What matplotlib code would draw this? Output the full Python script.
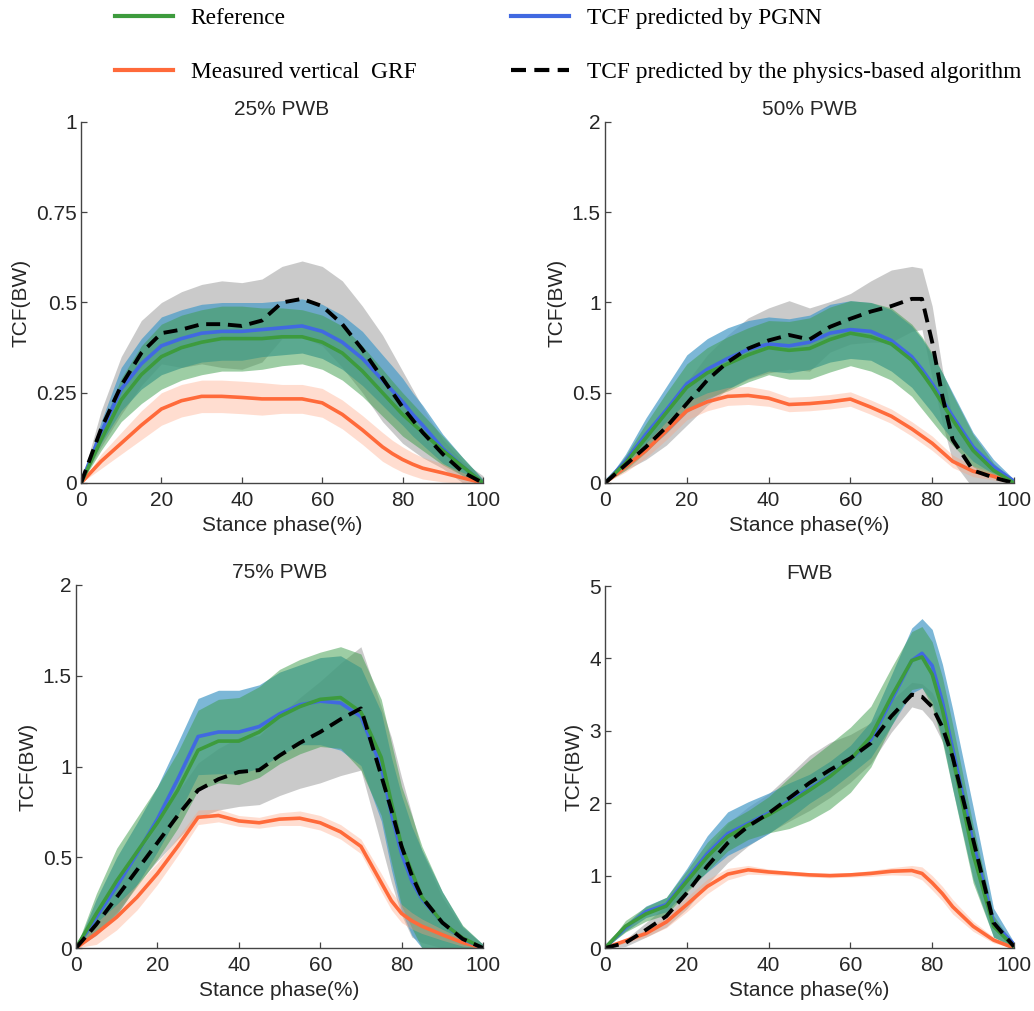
import numpy as np
import matplotlib
matplotlib.use("Agg")
import matplotlib.pyplot as plt
from matplotlib.lines import Line2D

# ---------------- data ----------------
stance = [0, 5, 10, 15, 20, 25, 30, 35, 40, 45, 50, 55, 60, 65, 70, 75, 77.5, 80, 82.5, 85, 90, 95, 100]

titles = ["25% PWB", "50% PWB", "75% PWB", "FWB"]
y_max = [1, 2, 2, 5]
y_ticks = [[0, 0.25, 0.5, 0.75, 1], [0, 0.5, 1, 1.5, 2], [0, 0.5, 1, 1.5, 2], [0, 1, 2, 3, 4, 5]]
y_ticklabels = [["0", "0.25", "0.5", "0.75", "1"], ["0", "0.5", "1", "1.5", "2"],
                ["0", "0.5", "1", "1.5", "2"], ["0", "1", "2", "3", "4", "5"]]

# 25% PWB
ref_25 = [0, 0.12, 0.23, 0.30, 0.35, 0.375, 0.39, 0.40, 0.40, 0.40, 0.405, 0.405, 0.39, 0.36, 0.31, 0.25, 0.22, 0.19, 0.165, 0.14, 0.09, 0.045, 0]
ref_sd_25 = [0, 0.03, 0.06, 0.08, 0.09, 0.09, 0.09, 0.09, 0.09, 0.085, 0.08, 0.075, 0.075, 0.075, 0.07, 0.065, 0.062, 0.06, 0.055, 0.05, 0.04, 0.025, 0.01]
pgnn_25 = [0, 0.14, 0.26, 0.33, 0.38, 0.40, 0.415, 0.42, 0.42, 0.425, 0.43, 0.435, 0.42, 0.39, 0.345, 0.285, 0.255, 0.225, 0.19, 0.16, 0.095, 0.045, 0]
pgnn_sd_25 = [0, 0.03, 0.06, 0.07, 0.08, 0.08, 0.08, 0.08, 0.08, 0.075, 0.075, 0.075, 0.075, 0.075, 0.075, 0.07, 0.068, 0.065, 0.06, 0.055, 0.04, 0.025, 0.01]
phys_25 = [0, 0.15, 0.27, 0.36, 0.415, 0.425, 0.44, 0.44, 0.435, 0.45, 0.50, 0.51, 0.49, 0.44, 0.37, 0.29, 0.25, 0.21, 0.175, 0.14, 0.08, 0.03, 0]
phys_sd_25 = [0, 0.05, 0.08, 0.09, 0.085, 0.105, 0.11, 0.12, 0.12, 0.115, 0.10, 0.105, 0.11, 0.12, 0.12, 0.12, 0.11, 0.10, 0.085, 0.07, 0.04, 0.03, 0.02]
grf_25 = [0, 0.06, 0.11, 0.16, 0.205, 0.228, 0.24, 0.24, 0.237, 0.233, 0.233, 0.233, 0.222, 0.19, 0.147, 0.10, 0.081, 0.065, 0.052, 0.041, 0.028, 0.014, 0]
grf_sd_25 = [0, 0.02, 0.03, 0.04, 0.045, 0.045, 0.045, 0.045, 0.045, 0.045, 0.04, 0.04, 0.04, 0.04, 0.04, 0.04, 0.037, 0.035, 0.032, 0.03, 0.025, 0.015, 0.005]

# 50% PWB
ref_50 = [0, 0.11, 0.25, 0.39, 0.53, 0.61, 0.66, 0.71, 0.75, 0.735, 0.745, 0.795, 0.83, 0.81, 0.77, 0.68, 0.61, 0.53, 0.44, 0.35, 0.18, 0.07, 0]
ref_sd_50 = [0, 0.04, 0.08, 0.11, 0.13, 0.14, 0.15, 0.15, 0.15, 0.16, 0.17, 0.18, 0.18, 0.19, 0.2, 0.2, 0.2, 0.19, 0.17, 0.14, 0.09, 0.04, 0.01]
pgnn_50 = [0, 0.12, 0.27, 0.405, 0.55, 0.63, 0.69, 0.74, 0.77, 0.76, 0.78, 0.83, 0.85, 0.84, 0.79, 0.70, 0.63, 0.55, 0.46, 0.37, 0.20, 0.09, 0.01]
pgnn_sd_50 = [0, 0.04, 0.09, 0.13, 0.16, 0.17, 0.17, 0.16, 0.15, 0.15, 0.15, 0.16, 0.16, 0.16, 0.17, 0.17, 0.17, 0.16, 0.15, 0.13, 0.08, 0.04, 0.01]
phys_50 = [0, 0.10, 0.20, 0.31, 0.44, 0.57, 0.67, 0.745, 0.79, 0.82, 0.795, 0.865, 0.91, 0.95, 0.98, 1.02, 1.02, 0.78, 0.48, 0.24, 0.07, 0.03, 0]
phys_sd_50 = [0, 0.03, 0.07, 0.10, 0.12, 0.14, 0.15, 0.17, 0.18, 0.19, 0.175, 0.14, 0.14, 0.17, 0.2, 0.18, 0.17, 0.2, 0.15, 0.12, 0.1, 0.05, 0.02]
grf_50 = [0, 0.09, 0.18, 0.29, 0.40, 0.45, 0.48, 0.485, 0.47, 0.435, 0.44, 0.45, 0.465, 0.42, 0.37, 0.30, 0.26, 0.22, 0.17, 0.12, 0.065, 0.037, 0]
grf_sd_50 = [0, 0.03, 0.04, 0.05, 0.05, 0.05, 0.05, 0.05, 0.045, 0.04, 0.04, 0.04, 0.04, 0.04, 0.04, 0.04, 0.04, 0.04, 0.037, 0.035, 0.03, 0.02, 0.005]

# 75% PWB
ref_75 = [0, 0.19, 0.37, 0.53, 0.69, 0.87, 1.09, 1.14, 1.14, 1.19, 1.275, 1.33, 1.37, 1.38, 1.30, 1.05, 0.80, 0.56, 0.42, 0.28, 0.14, 0.055, 0]
ref_sd_75 = [0, 0.11, 0.18, 0.19, 0.2, 0.21, 0.22, 0.23, 0.24, 0.25, 0.26, 0.26, 0.26, 0.28, 0.32, 0.32, 0.33, 0.33, 0.31, 0.28, 0.17, 0.07, 0.02]
pgnn_75 = [0, 0.17, 0.34, 0.52, 0.71, 0.93, 1.165, 1.19, 1.19, 1.22, 1.29, 1.34, 1.36, 1.35, 1.275, 1.0, 0.74, 0.52, 0.37, 0.27, 0.14, 0.05, 0]
pgnn_sd_75 = [0, 0.1, 0.16, 0.17, 0.18, 0.2, 0.21, 0.23, 0.23, 0.23, 0.23, 0.22, 0.24, 0.26, 0.27, 0.3, 0.31, 0.32, 0.3, 0.27, 0.17, 0.07, 0.02]
phys_75 = [0, 0.13, 0.28, 0.43, 0.58, 0.73, 0.87, 0.93, 0.97, 0.98, 1.06, 1.13, 1.19, 1.26, 1.32, 0.95, 0.76, 0.56, 0.40, 0.28, 0.14, 0.05, 0]
phys_sd_75 = [0, 0.05, 0.08, 0.08, 0.1, 0.13, 0.15, 0.17, 0.19, 0.19, 0.22, 0.25, 0.28, 0.31, 0.34, 0.38, 0.4, 0.38, 0.34, 0.25, 0.14, 0.06, 0.02]
grf_75 = [0, 0.08, 0.17, 0.28, 0.41, 0.56, 0.72, 0.73, 0.70, 0.69, 0.71, 0.715, 0.69, 0.64, 0.56, 0.36, 0.26, 0.19, 0.15, 0.12, 0.073, 0.03, 0]
grf_sd_75 = [0, 0.06, 0.07, 0.07, 0.06, 0.05, 0.04, 0.035, 0.03, 0.03, 0.035, 0.04, 0.04, 0.04, 0.04, 0.05, 0.05, 0.05, 0.045, 0.04, 0.03, 0.02, 0]

# FWB
ref_fwb = [0, 0.30, 0.47, 0.58, 0.92, 1.26, 1.54, 1.70, 1.84, 2.0, 2.18, 2.37, 2.6, 2.92, 3.47, 3.97, 4.02, 3.78, 3.29, 2.64, 1.3, 0.3, 0.02]
ref_sd_fwb = [0, 0.08, 0.1, 0.12, 0.15, 0.2, 0.2, 0.2, 0.25, 0.35, 0.42, 0.45, 0.45, 0.42, 0.4, 0.4, 0.42, 0.45, 0.45, 0.45, 0.4, 0.15, 0.02]
pgnn_fwb = [0, 0.28, 0.5, 0.6, 0.95, 1.3, 1.58, 1.72, 1.86, 2.03, 2.2, 2.38, 2.6, 2.88, 3.42, 3.97, 4.07, 3.9, 3.4, 2.75, 1.45, 0.35, 0.05]
pgnn_sd_fwb = [0, 0.05, 0.08, 0.1, 0.15, 0.25, 0.3, 0.3, 0.28, 0.25, 0.2, 0.2, 0.2, 0.25, 0.35, 0.45, 0.48, 0.5, 0.52, 0.55, 0.5, 0.2, 0.03]
phys_fwb = [0, 0.07, 0.25, 0.44, 0.76, 1.13, 1.45, 1.68, 1.86, 2.07, 2.28, 2.46, 2.62, 2.83, 3.2, 3.5, 3.47, 3.33, 3.05, 2.64, 1.5, 0.35, 0.02]
phys_sd_fwb = [0, 0.05, 0.1, 0.15, 0.22, 0.25, 0.27, 0.27, 0.27, 0.32, 0.38, 0.38, 0.33, 0.28, 0.22, 0.17, 0.18, 0.2, 0.2, 0.2, 0.15, 0.08, 0.02]
grf_fwb = [0, 0.1, 0.2, 0.36, 0.6, 0.85, 1.02, 1.08, 1.05, 1.03, 1.01, 1.0, 1.01, 1.03, 1.06, 1.07, 1.03, 0.9, 0.75, 0.57, 0.3, 0.11, 0]
grf_sd_fwb = [0, 0.03, 0.05, 0.08, 0.1, 0.1, 0.08, 0.06, 0.04, 0.03, 0.03, 0.03, 0.03, 0.04, 0.05, 0.07, 0.09, 0.1, 0.1, 0.1, 0.07, 0.04, 0]

panels = [
    (ref_25, ref_sd_25, pgnn_25, pgnn_sd_25, phys_25, phys_sd_25, grf_25, grf_sd_25),
    (ref_50, ref_sd_50, pgnn_50, pgnn_sd_50, phys_50, phys_sd_50, grf_50, grf_sd_50),
    (ref_75, ref_sd_75, pgnn_75, pgnn_sd_75, phys_75, phys_sd_75, grf_75, grf_sd_75),
    (ref_fwb, ref_sd_fwb, pgnn_fwb, pgnn_sd_fwb, phys_fwb, phys_sd_fwb, grf_fwb, grf_sd_fwb),
]

legend_labels = ["Reference", "Measured vertical  GRF", "TCF predicted by PGNN",
                 "TCF predicted by the physics-based algorithm"]

# ---------------- style ----------------
C_REF = "#3d9b3d"
C_PGNN = "#4169e1"
C_GRF = "#ff6a3a"
C_PHYS = "black"
B_REF = "#3c9c4a"
B_PGNN = "#4a9cc8"
B_PHYS = "#a8a8a8"
B_GRF = "#ffa07a"
TXT = "#262626"

plt.rcParams["font.family"] = ["Liberation Sans", "DejaVu Sans"]

fig = plt.figure(figsize=(10.34, 10.11), dpi=100)
W, H = 1034, 1011
boxes = [(81, 483, 122, 483), (605, 1014, 122, 483), (76, 483, 585, 948), (605, 1014, 586, 948)]

x = np.array(stance, dtype=float)
for i, (box, data) in enumerate(zip(boxes, panels)):
    l, r, t, b = box
    ax = fig.add_axes([l / W, 1 - b / H, (r - l) / W, (b - t) / H])
    ref, ref_sd, pg, pg_sd, ph, ph_sd, gr, gr_sd = [np.array(d, dtype=float) for d in data]

    ax.fill_between(x, ph - ph_sd, ph + ph_sd, color=B_PHYS, alpha=0.6, lw=0)
    ax.fill_between(x, pg - pg_sd, pg + pg_sd, color=B_PGNN, alpha=0.72, lw=0)
    ax.fill_between(x, ref - ref_sd, ref + ref_sd, color=B_REF, alpha=0.5, lw=0)
    ax.fill_between(x, gr - gr_sd, gr + gr_sd, color=B_GRF, alpha=0.35, lw=0)

    ax.plot(x, gr, color=C_GRF, lw=2.6, solid_capstyle="round", solid_joinstyle="round")
    ax.plot(x, pg, color=C_PGNN, lw=2.6, solid_capstyle="round", solid_joinstyle="round")
    ax.plot(x, ref, color=C_REF, lw=2.6, solid_capstyle="round", solid_joinstyle="round")
    ax.plot(x, ph, color=C_PHYS, lw=2.8, linestyle=(0, (3.6, 2.0)))

    ax.set_xlim(0, 100)
    ax.set_ylim(0, y_max[i])
    ax.set_xticks([0, 20, 40, 60, 80, 100])
    ax.set_yticks(y_ticks[i])
    ax.set_yticklabels(y_ticklabels[i])
    for s in ("top", "right"):
        ax.spines[s].set_visible(False)
    for s in ("left", "bottom"):
        ax.spines[s].set_color("#444444")
        ax.spines[s].set_linewidth(1.0)
    ax.tick_params(direction="in", length=4, width=0.9, colors="#444444",
                   labelcolor=TXT, labelsize=15)
    ax.tick_params(axis="x", pad=6)
    ax.tick_params(axis="y", pad=3)
    ax.set_xlabel("Stance phase(%)", fontsize=15, color=TXT)
    ax.set_ylabel("TCF(BW)", fontsize=15, color=TXT)
    ax.set_title(titles[i], fontsize=15, color=TXT, pad=5)

handles = [
    Line2D([], [], color=C_REF, lw=3),
    Line2D([], [], color=C_GRF, lw=3),
    Line2D([], [], color=C_PGNN, lw=3),
    Line2D([], [], color=C_PHYS, lw=3, linestyle=(0, (3.6, 2.0))),
]
fig.legend(handles, legend_labels, ncol=2, loc="upper left",
           bbox_to_anchor=(115 / W, 1 - 8 / H), frameon=False, borderpad=0, borderaxespad=0,
           prop={"family": ["Liberation Serif", "DejaVu Serif"], "size": 16.8},
           handlelength=2.5, handletextpad=0.75, columnspacing=4.05, labelspacing=1.4)

fig.savefig("out.png", dpi=100)
